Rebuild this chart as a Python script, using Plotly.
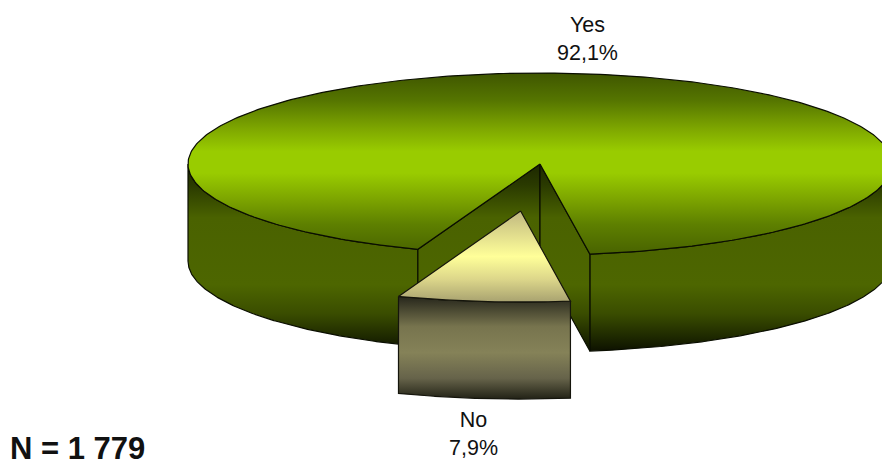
import numpy as np
import plotly.graph_objects as go

# Survey result
categories = ["Yes", "No"]
shares = [92.1, 7.9]
sample_size = "N = 1 779"

# Projection of the disc, in pixel-sized axis units
CX, CY = 540.0, 164.0
RX, RY = 352.0, 91.0
DEPTH = 97.0
FIRST_ANGLE = -20.3   # where the "No" slice begins, degrees from straight-down
EXPLODE = 0.52        # pull-out of the "No" slice, as a fraction of the radius

EDGE = "#0a0e00"
EDGE_NO = "#15150c"

top_yes = [[0, "#3f5600"], [0.15, "#557500"], [0.31, "#7fa800"], [0.43, "#99cc00"], [0.55, "#99cc00"],
           [0.70, "#7ba300"], [0.83, "#5e8000"], [1, "#486200"]]
wall_yes = [[0, "#1a2400"], [0.13, "#2a3a00"], [0.3, "#4a6200"], [0.65, "#4d6600"], [0.8, "#3a4d00"],
            [0.93, "#1c2600"], [1, "#0c1000"]]
top_no = [[0, "#c0b880"], [0.5, "#ffff99"], [0.75, "#dcd68a"], [1, "#a8a270"]]
wall_no = [[0, "#24241a"], [0.3, "#77744e"], [0.55, "#858258"], [0.8, "#66634a"], [1, "#222216"]]


def rim(deg_from, deg_to, dx=0.0, dy=0.0, n=180):
    t = np.radians(np.linspace(deg_from, deg_to, n))
    return CX + dx + RX * np.sin(t), CY + dy + RY * np.cos(t)


def add_poly(fig, xs, ys, scale, start, stop, edge=EDGE):
    fig.add_trace(go.Scatter(
        x=list(xs), y=list(ys), mode="lines", fill="toself",
        line=dict(color=edge, width=1.2),
        fillgradient=dict(type="vertical", colorscale=scale, start=start, stop=stop),
        hoverinfo="skip", showlegend=False,
    ))


def add_wall(fig, deg_from, deg_to, scale, start, stop, dx=0.0, dy=0.0, edge=EDGE):
    x, y = rim(deg_from, deg_to, dx, dy)
    add_poly(fig, np.r_[x, x[::-1], x[0]], np.r_[y, y[::-1] + DEPTH, y[0]], scale, start, stop, edge)


fig = go.Figure()

# Slice boundaries follow from the shares
a0 = FIRST_ANGLE
a1 = a0 + shares[1] * 3.6
mid = np.radians((a0 + a1) / 2)
off_x = EXPLODE * RX * np.sin(mid)
off_y = EXPLODE * RY * np.cos(mid)
wall_top, wall_bottom = CY - 4, CY + RY + DEPTH

# Outer wall of the large slice, either side of the gap
add_wall(fig, -90, a0, wall_yes, wall_top, wall_bottom)
add_wall(fig, a1, 90, wall_yes, wall_top, wall_bottom)

# Faces exposed by pulling the small slice out
for a in (a0, a1):
    ex, ey = rim(a, a, n=1)
    add_poly(fig,
             [CX, ex[0], ex[0], CX, CX],
             [CY, ey[0], ey[0] + DEPTH, CY + DEPTH, CY],
             wall_yes, wall_top, wall_bottom)

# Top of the large slice
x, y = rim(a1, a0 + 360, n=400)
add_poly(fig, np.r_[CX, x, CX], np.r_[CY, y, CY], top_yes, CY - RY, CY + RY)

# Pulled-out small slice
add_wall(fig, a0, a1, wall_no, CY + off_y + RY * 0.93, CY + off_y + RY + DEPTH,
         off_x, off_y, EDGE_NO)
x, y = rim(a0, a1, off_x, off_y, n=40)
add_poly(fig, np.r_[CX + off_x, x, CX + off_x], np.r_[CY + off_y, y, CY + off_y],
         top_no, CY + off_y, CY + off_y + RY, EDGE_NO)

label_font = dict(family="Liberation Sans", size=21.5, color="#111111")
labels = [f"{c}<br>{str(v).replace('.', ',')}%" for c, v in zip(categories, shares)]
for text, px, py in zip(labels, (587, 473), (39, 434)):
    fig.add_annotation(x=px, y=py, xref="x", yref="y", text=text, showarrow=False,
                       font=label_font, align="center", xanchor="center", yanchor="middle")
fig.add_annotation(x=8, y=467.5, xref="x", yref="y", text=f"<b>{sample_size}</b>", showarrow=False,
                   font=dict(family="Liberation Sans", size=31, color="#111111"),
                   xanchor="left", yanchor="bottom")

fig.update_layout(
    width=882, height=468, margin=dict(l=0, r=0, t=0, b=0),
    paper_bgcolor="white", plot_bgcolor="white", showlegend=False,
    xaxis=dict(range=[0, 882], visible=False, fixedrange=True),
    yaxis=dict(range=[468, 0], visible=False, fixedrange=True),
)
fig.write_html("out.html", config={"displayModeBar": False})
